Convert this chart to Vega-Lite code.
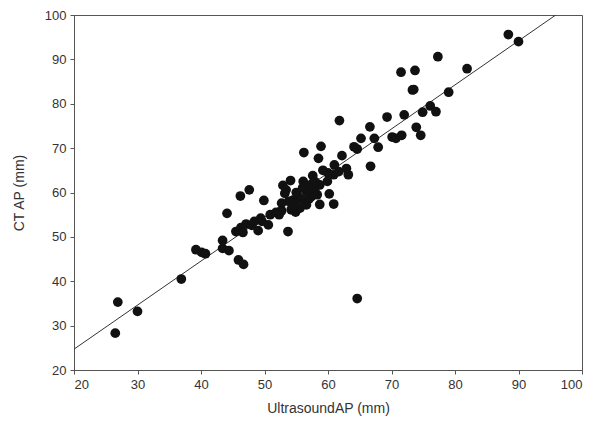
{
  "$schema": "https://vega.github.io/schema/vega-lite/v6.json",
  "width": 508,
  "height": 355,
  "autosize": "none",
  "padding": {"left": 74, "top": 15, "right": 12, "bottom": 60},
  "background": "white",
  "config": {
    "view": {"stroke": "#555", "strokeWidth": 1},
    "font": "Liberation Sans",
    "axis": {"grid": false, "domainColor": "#555", "tickColor": "#555", "labelColor": "#333", "titleColor": "#333", "labelFontSize": 13, "titleFontSize": 14, "titleFontWeight": "normal", "tickSize": 4, "labelPadding": 4}
  },
  "datasets": {
    "pts": [
      {"us": 26.5, "ct": 28.3}, {"us": 26.9, "ct": 35.3}, {"us": 30.0, "ct": 33.2}, {"us": 36.9, "ct": 40.5},
      {"us": 39.2, "ct": 47.1}, {"us": 40.1, "ct": 46.5}, {"us": 40.7, "ct": 46.2}, {"us": 43.4, "ct": 49.2},
      {"us": 43.4, "ct": 47.4}, {"us": 44.4, "ct": 46.9}, {"us": 44.1, "ct": 55.3}, {"us": 45.9, "ct": 44.8},
      {"us": 46.7, "ct": 43.8}, {"us": 45.5, "ct": 51.2}, {"us": 46.3, "ct": 52.1}, {"us": 46.6, "ct": 51.0},
      {"us": 47.1, "ct": 52.9}, {"us": 46.2, "ct": 59.2}, {"us": 47.6, "ct": 60.6}, {"us": 48.0, "ct": 52.6},
      {"us": 48.4, "ct": 53.5}, {"us": 49.0, "ct": 51.4}, {"us": 49.4, "ct": 54.2}, {"us": 49.9, "ct": 58.2},
      {"us": 50.6, "ct": 52.7}, {"us": 49.6, "ct": 53.5}, {"us": 50.9, "ct": 55.0}, {"us": 51.8, "ct": 55.5},
      {"us": 52.3, "ct": 55.0}, {"us": 52.7, "ct": 55.9}, {"us": 52.7, "ct": 57.6}, {"us": 53.7, "ct": 51.2},
      {"us": 52.9, "ct": 61.6}, {"us": 54.1, "ct": 62.7}, {"us": 53.4, "ct": 60.6}, {"us": 54.2, "ct": 56.1},
      {"us": 54.9, "ct": 55.6}, {"us": 54.5, "ct": 58.3}, {"us": 55.3, "ct": 59.1}, {"us": 55.6, "ct": 56.5},
      {"us": 56.1, "ct": 62.5}, {"us": 56.2, "ct": 69.0}, {"us": 56.6, "ct": 57.2}, {"us": 56.6, "ct": 60.2},
      {"us": 57.2, "ct": 61.4}, {"us": 57.6, "ct": 63.8}, {"us": 57.4, "ct": 59.1}, {"us": 57.9, "ct": 60.6},
      {"us": 58.3, "ct": 59.5}, {"us": 58.5, "ct": 67.7}, {"us": 58.9, "ct": 70.4}, {"us": 58.7, "ct": 57.3},
      {"us": 58.7, "ct": 61.7}, {"us": 59.9, "ct": 62.5}, {"us": 60.0, "ct": 64.4}, {"us": 60.2, "ct": 59.7},
      {"us": 60.9, "ct": 57.4}, {"us": 61.0, "ct": 66.2}, {"us": 60.9, "ct": 64.0}, {"us": 61.7, "ct": 64.7},
      {"us": 61.8, "ct": 76.2}, {"us": 62.2, "ct": 68.3}, {"us": 62.9, "ct": 65.4}, {"us": 63.2, "ct": 64.0},
      {"us": 64.1, "ct": 70.3}, {"us": 64.6, "ct": 69.8}, {"us": 64.6, "ct": 36.1}, {"us": 65.2, "ct": 72.2},
      {"us": 66.6, "ct": 74.8}, {"us": 66.7, "ct": 65.9}, {"us": 67.3, "ct": 72.2}, {"us": 67.9, "ct": 70.2},
      {"us": 69.3, "ct": 77.0}, {"us": 70.1, "ct": 72.5}, {"us": 70.7, "ct": 72.2}, {"us": 71.6, "ct": 72.9},
      {"us": 71.5, "ct": 87.1}, {"us": 72.0, "ct": 77.5}, {"us": 73.3, "ct": 83.1}, {"us": 73.5, "ct": 83.2},
      {"us": 73.7, "ct": 87.5}, {"us": 73.9, "ct": 74.7}, {"us": 74.6, "ct": 72.9}, {"us": 74.9, "ct": 78.1},
      {"us": 76.1, "ct": 79.5}, {"us": 77.0, "ct": 78.2}, {"us": 77.3, "ct": 90.6}, {"us": 79.0, "ct": 82.6},
      {"us": 81.9, "ct": 87.9}, {"us": 88.4, "ct": 95.6}, {"us": 90.0, "ct": 94.0},
      {"us": 55.0, "ct": 60.0}, {"us": 56.8, "ct": 60.8}, {"us": 57.5, "ct": 62.0}, {"us": 55.8, "ct": 58.5},
      {"us": 54.8, "ct": 57.5}, {"us": 53.8, "ct": 58.0}, {"us": 56.0, "ct": 61.0}, {"us": 58.0, "ct": 62.4},
      {"us": 57.0, "ct": 58.5}, {"us": 53.2, "ct": 59.8}, {"us": 59.2, "ct": 65.0}
    ],
    "fit": [{"us": 20, "ct": 24.7}, {"us": 100, "ct": 104.1}]
  },
  "layer": [
    {
      "data": {"name": "fit"},
      "mark": {"type": "line", "color": "#333", "strokeWidth": 1, "clip": true},
      "encoding": {
        "x": {"field": "us", "type": "quantitative", "scale": {"domain": [20, 100], "nice": false}},
        "y": {"field": "ct", "type": "quantitative", "scale": {"domain": [20, 100], "nice": false}}
      }
    },
    {
      "data": {"name": "pts"},
      "mark": {"type": "circle", "size": 95, "color": "#111", "opacity": 1},
      "encoding": {
        "x": {"field": "us", "type": "quantitative", "title": "UltrasoundAP (mm)", "scale": {"domain": [20, 100], "nice": false}, "axis": {"values": [20, 30, 40, 50, 60, 70, 80, 90, 100], "titlePadding": 10}},
        "y": {"field": "ct", "type": "quantitative", "title": "CT AP (mm)", "scale": {"domain": [20, 100], "nice": false}, "axis": {"values": [20, 30, 40, 50, 60, 70, 80, 90, 100], "titlePadding": 18}}
      }
    }
  ]
}
